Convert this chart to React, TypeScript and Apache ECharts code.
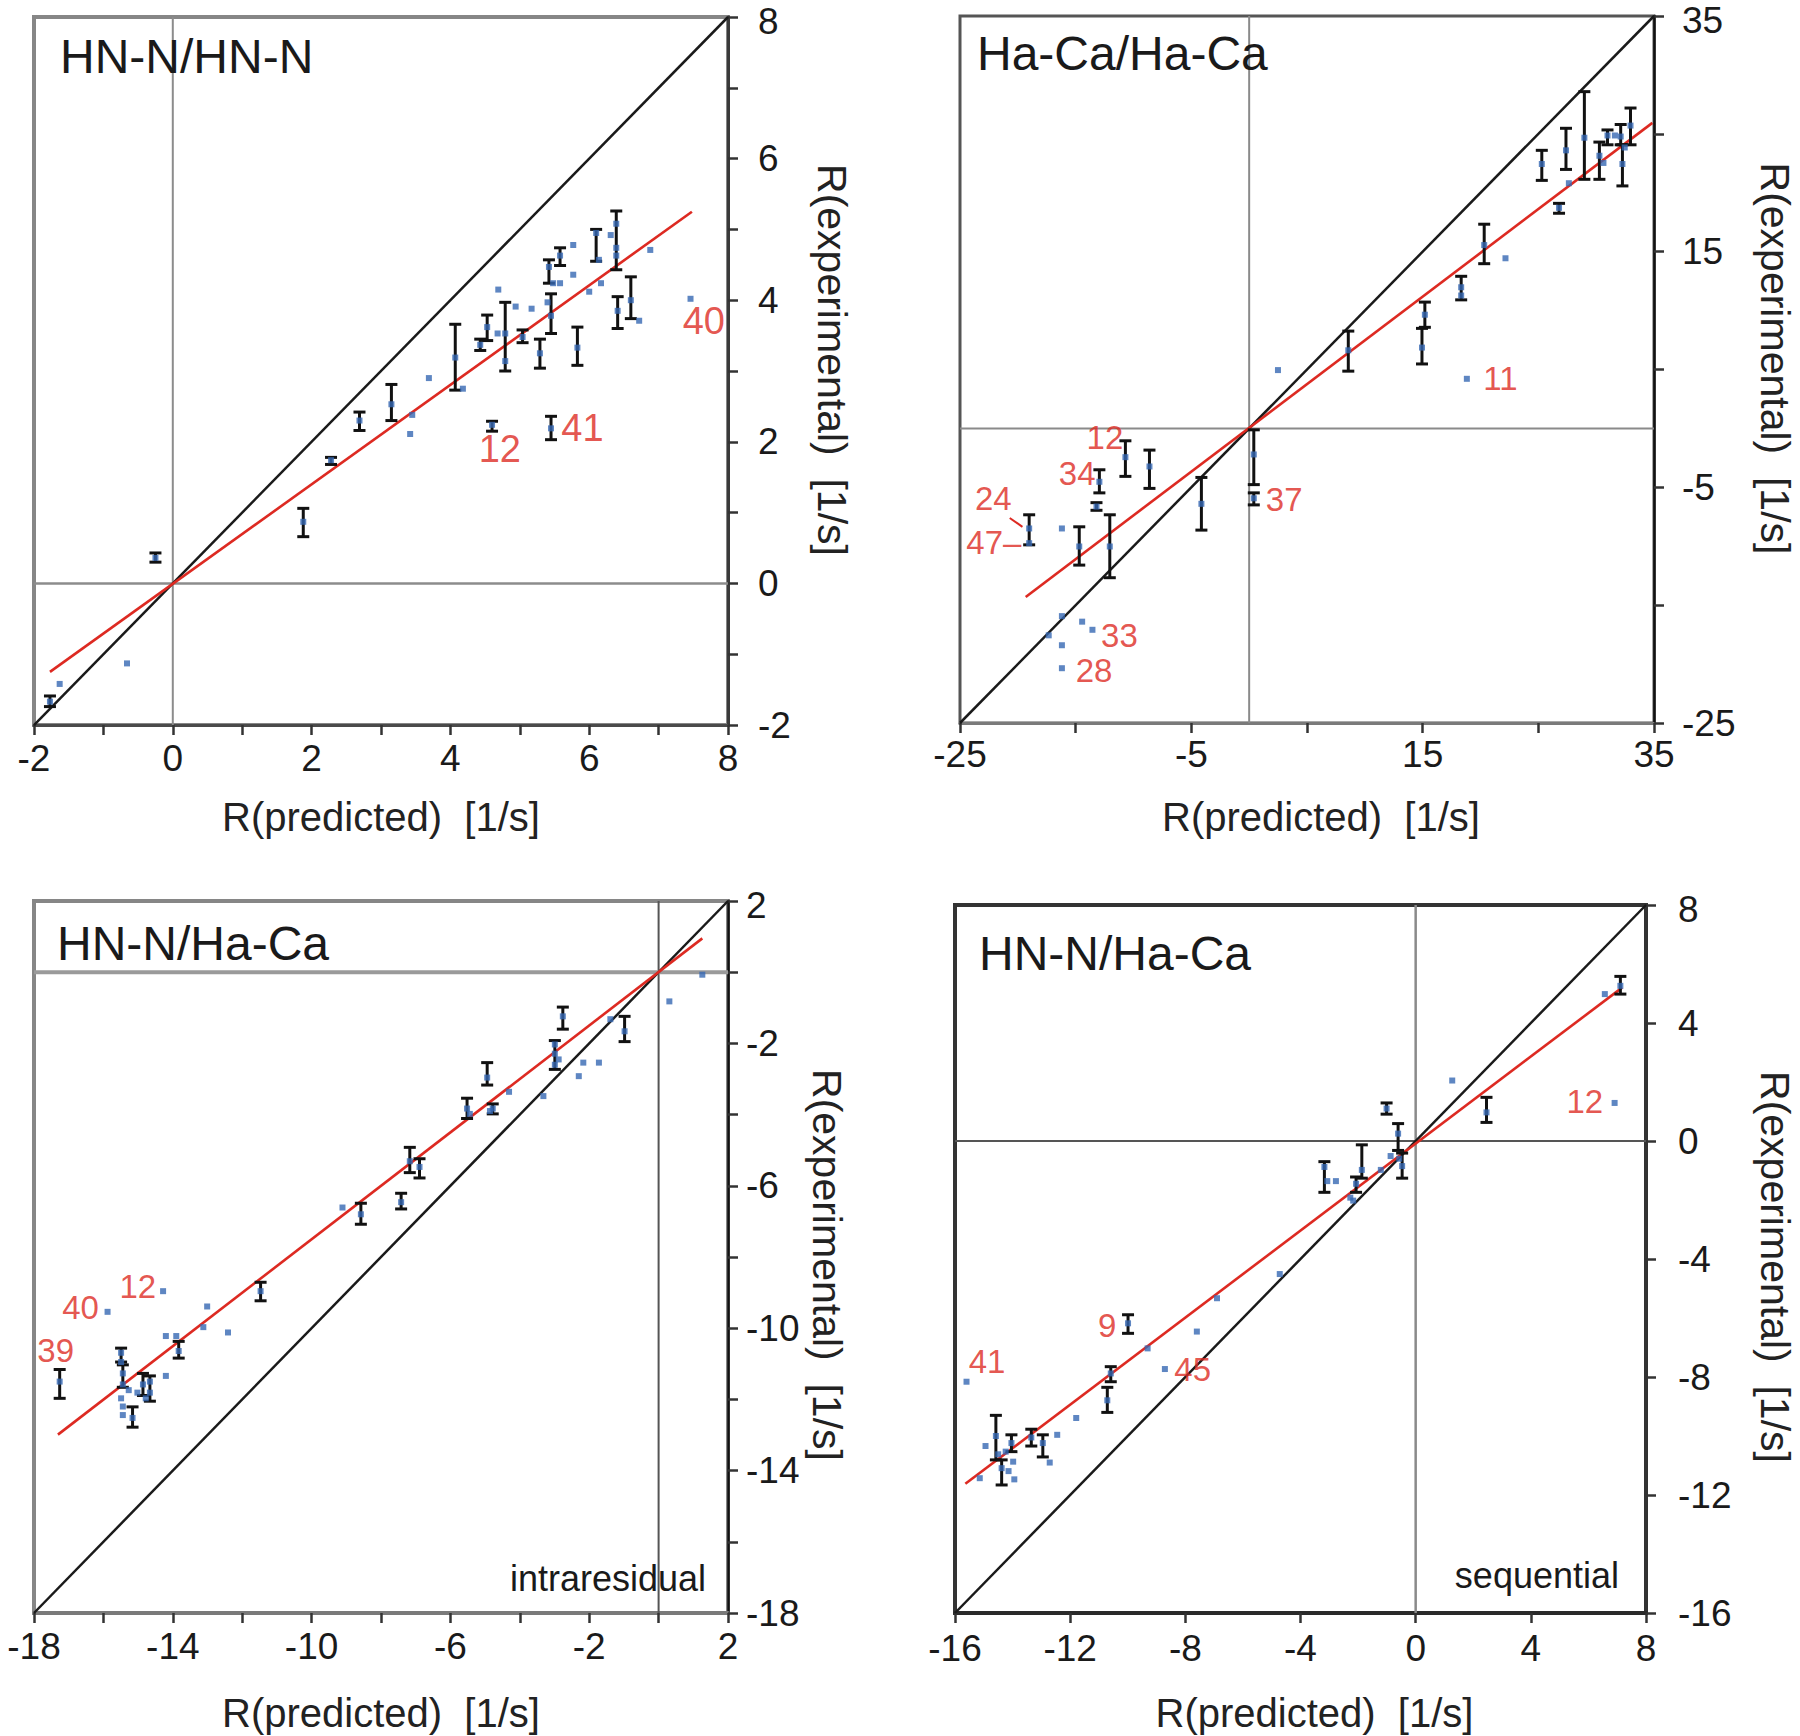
import React, { useEffect, useRef } from "react";
import * as echarts from "echarts";

// ---------- Panel 1: HN-N/HN-N ----------
const p1XLabels = [-2, 0, 2, 4, 6, 8];
const p1YLabels = [-2, 0, 2, 4, 6, 8];
const p1Tick = 1;
const p1Points: [number, number][] = [
  [-1.77, -1.67], [-1.63, -1.42], [-0.66, -1.13], [-0.25, 0.36], [1.88, 0.87], [2.28, 1.74],
  [2.69, 2.3], [3.15, 2.53], [3.42, 2.11], [3.45, 2.38], [3.69, 2.9], [4.07, 3.19], [4.18, 2.75],
  [4.43, 3.37], [4.53, 3.62], [4.6, 2.24], [4.69, 4.15], [4.68, 3.53], [4.79, 3.53], [4.79, 3.14],
  [4.94, 3.91], [5.04, 3.48], [5.17, 3.88], [5.29, 3.25], [5.4, 3.97], [5.42, 4.47], [5.45, 3.78],
  [5.45, 2.19], [5.48, 4.24], [5.58, 4.24], [5.58, 4.63], [5.77, 4.78], [5.77, 4.36], [5.83, 3.33],
  [6.0, 4.12], [6.1, 4.95], [6.14, 4.57], [6.17, 4.24], [6.31, 4.92], [6.39, 5.08], [6.39, 4.74],
  [6.39, 4.63], [6.41, 3.85], [6.6, 4.0], [6.72, 3.71], [6.88, 4.71], [7.46, 4.02],
];
const p1Errors: [number, number, number][] = [
  [-1.77, -1.74, -1.59], [-0.25, 0.3, 0.43], [1.88, 0.66, 1.06], [2.28, 1.68, 1.78], [2.69, 2.16, 2.42],
  [3.15, 2.3, 2.81], [4.07, 2.73, 3.66], [4.43, 3.29, 3.45], [4.53, 3.43, 3.79], [4.6, 2.15, 2.29],
  [4.79, 3.0, 3.97], [5.04, 3.4, 3.58], [5.29, 3.04, 3.45], [5.42, 4.24, 4.57], [5.45, 3.53, 4.09],
  [5.45, 2.03, 2.36], [5.58, 4.49, 4.74], [5.83, 3.08, 3.62], [6.1, 4.55, 5.0], [6.39, 4.43, 5.26],
  [6.41, 3.6, 4.05], [6.6, 3.74, 4.33],
];
const p1Fit: [number, number][] = [[-1.77, -1.25], [7.48, 5.25]];
const p1Labels: [number, number, string][] = [[7.34, 3.7, "40"], [5.59, 2.19, "41"], [4.4, 1.9, "12"]];

// ---------- Panel 2: Ha-Ca/Ha-Ca ----------
const p2XLabels = [-25, -5, 15, 35];
const p2YLabels = [-25, -5, 15, 35];
const p2Tick = 10;
const p2Points: [number, number][] = [
  [-17.33, -17.56], [-16.19, -15.93], [-16.19, -18.4], [-16.19, -20.35], [-14.44, -16.4], [-13.55, -17.09],
  [-16.19, -8.49], [-19.02, -8.49], [-19.02, -9.74], [-14.69, -10.02], [-13.2, -6.63], [-12.95, -4.53],
  [-12.05, -10.02], [-10.7, -2.44], [-8.62, -3.23], [-4.13, -6.4], [0.4, -2.21], [0.4, -5.93],
  [2.49, 4.95], [8.57, 6.63], [14.94, 6.86], [15.19, 9.65], [18.82, 4.21], [18.33, 11.28],
  [18.33, 11.98], [20.32, 15.56], [22.16, 14.44], [25.3, 22.44], [26.79, 18.72], [27.39, 23.6],
  [27.64, 20.81], [28.98, 24.67], [30.28, 23.14], [30.63, 22.53], [30.98, 24.86], [31.62, 24.86],
  [32.12, 24.77], [32.27, 22.44], [32.47, 23.84], [32.97, 25.7],
];
const p2Errors: [number, number, number][] = [
  [-19.02, -9.88, -7.33], [-14.69, -11.6, -8.35], [-13.2, -6.95, -6.3], [-12.95, -5.47, -3.51],
  [-12.05, -12.67, -7.33], [-10.7, -4.07, -1.05], [-8.62, -5.09, -1.84], [-4.13, -8.63, -4.16],
  [0.4, -4.77, -0.12], [0.4, -6.49, -5.47], [8.57, 4.86, 8.26], [14.94, 5.47, 8.49],
  [15.19, 8.58, 10.72], [18.33, 10.91, 12.91], [20.32, 13.98, 17.33], [25.3, 21.05, 23.6],
  [26.79, 18.26, 19.1], [27.39, 21.98, 25.47], [28.98, 21.14, 28.58], [30.28, 21.14, 24.3],
  [30.98, 24.07, 25.33], [32.12, 24.07, 25.79], [32.27, 20.58, 24.07], [32.97, 24.07, 27.19],
];
const p2Fit: [number, number][] = [[-19.32, -14.3], [34.86, 25.93]];
const p2Labels: [number, number, string][] = [
  [20.2, 4.21, "11"], [1.4, -6.0, "37"], [-14.1, -0.81, "12"], [-16.5, -3.84, "34"],
  [-23.75, -5.93, "24"], [-24.5, -9.65, "47–"], [-12.85, -17.56, "33"], [-15.04, -20.58, "28"],
];
const p2Pointer: [number, number][] = [[-20.7, -7.6], [-19.6, -8.35]];

// ---------- Panel 3: HN-N/Ha-Ca intraresidual ----------
const p3XLabels = [-18, -14, -10, -6, -2, 2];
const p3YLabels = [-18, -14, -10, -6, -2, 2];
const p3Tick = 2;
const p3Points: [number, number][] = [
  [-17.26, -11.5], [-15.88, -9.54], [-14.28, -8.96], [-15.49, -10.69], [-15.49, -10.95], [-15.44, -11.27],
  [-15.44, -11.58], [-15.49, -11.97], [-15.44, -12.2], [-15.44, -12.44], [-15.27, -11.74], [-15.16, -12.52],
  [-15.02, -11.81], [-14.86, -11.58], [-14.78, -11.97], [-14.66, -11.5], [-14.66, -11.81], [-14.2, -11.34],
  [-14.2, -10.22], [-13.9, -10.22], [-13.83, -10.64], [-13.12, -9.97], [-13.01, -9.39], [-12.41, -10.12],
  [-11.47, -8.96], [-9.11, -6.61], [-8.58, -6.8], [-7.42, -6.46], [-7.17, -5.31], [-6.89, -5.47],
  [-5.52, -3.83], [-5.44, -3.98], [-4.94, -2.96], [-4.86, -3.9], [-4.78, -3.83], [-4.31, -3.36],
  [-3.32, -3.48], [-2.99, -2.03], [-2.99, -2.29], [-2.99, -2.6], [-2.88, -2.45], [-2.76, -1.24],
  [-2.3, -2.92], [-2.17, -2.54], [-1.72, -2.54], [-1.39, -1.32], [-0.98, -1.66], [0.31, -0.82], [1.26, -0.07],
];
const p3Errors: [number, number, number][] = [
  [-17.26, -11.97, -11.16], [-15.49, -10.95, -10.56], [-15.44, -11.66, -11.03], [-15.16, -12.78, -12.21],
  [-14.86, -11.89, -11.27], [-14.66, -12.05, -11.34], [-13.83, -10.84, -10.37], [-11.47, -9.23, -8.71],
  [-8.58, -7.08, -6.49], [-7.42, -6.65, -6.21], [-7.17, -5.63, -4.92], [-6.89, -5.78, -5.24],
  [-5.52, -4.11, -3.54], [-4.94, -3.17, -2.54], [-4.78, -3.98, -3.7], [-2.99, -2.73, -1.92],
  [-2.76, -1.6, -0.98], [-0.98, -1.95, -1.24],
];
const p3Fit: [number, number][] = [[-17.31, -12.99], [1.26, 0.95]];
const p3Labels: [number, number, string][] = [[-17.92, -10.64, "39"], [-17.2, -9.43, "40"], [-15.55, -8.84, "12"]];

// ---------- Panel 4: HN-N/Ha-Ca sequential ----------
const p4XLabels = [-16, -12, -8, -4, 0, 4, 8];
const p4YLabels = [-16, -12, -8, -4, 0, 4, 8];
const p4Tick = 4;
const p4Points: [number, number][] = [
  [-15.6, -8.16], [-15.14, -11.43], [-14.94, -10.34], [-14.58, -10.0], [-14.5, -10.62], [-14.38, -11.09],
  [-14.24, -10.53], [-14.04, -10.24], [-14.14, -11.19], [-13.98, -10.87], [-13.94, -11.47], [-13.35, -10.05],
  [-12.95, -10.24], [-12.71, -10.9], [-12.45, -9.96], [-11.79, -9.39], [-10.71, -8.79], [-10.59, -7.88],
  [-9.99, -6.18], [-9.31, -7.03], [-8.71, -7.73], [-7.6, -6.46], [-6.9, -5.33], [-4.72, -4.51],
  [-3.17, -0.88], [-3.07, -1.36], [-2.77, -1.36], [-2.27, -1.92], [-2.17, -2.02], [-2.07, -1.45],
  [-1.87, -0.98], [-1.21, -0.98], [-1.01, 1.1], [-0.87, -0.51], [-0.61, 0.25], [-0.57, -0.6],
  [-0.47, -0.85], [1.27, 2.05], [2.46, 0.97], [6.57, 4.98], [6.91, 1.29], [7.11, 5.26],
];
const p4Errors: [number, number, number][] = [
  [-14.58, -10.81, -9.3], [-14.38, -11.66, -10.81], [-14.04, -10.53, -9.96], [-13.35, -10.34, -9.77],
  [-12.95, -10.71, -9.96], [-10.71, -9.2, -8.35], [-10.59, -8.16, -7.65], [-9.99, -6.52, -5.89],
  [-3.17, -1.74, -0.7], [-2.07, -1.74, -1.22], [-1.87, -1.26, -0.13], [-1.01, 0.91, 1.29],
  [-0.61, -0.32, 0.59], [-0.47, -1.26, -0.41], [2.46, 0.63, 1.48], [7.11, 4.98, 5.58],
];
const p4Fit: [number, number][] = [[-15.64, -11.62], [7.17, 5.2]];
const p4Labels: [number, number, string][] = [[-15.54, -7.46, "41"], [-11.05, -6.27, "9"], [-8.4, -7.73, "45"], [5.22, 1.35, "12"]];

const titles = ["HN-N/HN-N", "Ha-Ca/Ha-Ca", "HN-N/Ha-Ca", "HN-N/Ha-Ca"];
const xName = "R(predicted)  [1/s]";
const yName = "R(experimental)  [1/s]";

const FONT = "'Liberation Sans', Arial, sans-serif";
const RED = "#dd2a22";
const BLUE = "#3668b3";

type Panel = {
  grid: { left: number; top: number; width: number; height: number };
  xLabels: number[]; yLabels: number[]; tick: number;
  points: [number, number][]; errors: [number, number, number][];
  fit: [number, number][]; labels: [number, number, string][];
  labelSize: number;
  border: string; borderW: number;
  xLine: string; xLineW: number; yLine: string; yLineW: number;
  zeroH: string; zeroHW: number; zeroV: string; zeroVW: number;
  xLabelMargin: number; yLabelMargin: number; xNameGap: number; yNameGap: number;
  xNamePad: number[]; yNamePad: number[];
};

const panels: Panel[] = [
  {
    grid: { left: 34, top: 17, width: 694, height: 708 },
    xLabels: p1XLabels, yLabels: p1YLabels, tick: p1Tick,
    points: p1Points, errors: p1Errors, fit: p1Fit, labels: p1Labels, labelSize: 38,
    border: "#868686", borderW: 4, xLine: "#4a4a4a", xLineW: 3, yLine: "#3a3a3a", yLineW: 3,
    zeroH: "#8c8c8c", zeroHW: 2.5, zeroV: "#8c8c8c", zeroVW: 2,
    xLabelMargin: 18, yLabelMargin: 30, xNameGap: 72, yNameGap: 87,
    xNamePad: [0, 0, 0, 0], yNamePad: [0, 22, 0, 0],
  },
  {
    grid: { left: 960, top: 16, width: 694, height: 707 },
    xLabels: p2XLabels, yLabels: p2YLabels, tick: p2Tick,
    points: p2Points, errors: p2Errors, fit: p2Fit, labels: p2Labels, labelSize: 33,
    border: "#555555", borderW: 3, xLine: "#7a7a7a", xLineW: 3, yLine: "#111111", yLineW: 2.5,
    zeroH: "#8a8a8a", zeroHW: 2, zeroV: "#8a8a8a", zeroVW: 2,
    xLabelMargin: 16, yLabelMargin: 28, xNameGap: 74, yNameGap: 104,
    xNamePad: [0, 0, 0, 28], yNamePad: [0, 22, 0, 0],
  },
  {
    grid: { left: 34, top: 901, width: 694, height: 712 },
    xLabels: p3XLabels, yLabels: p3YLabels, tick: p3Tick,
    points: p3Points, errors: p3Errors, fit: p3Fit, labels: p3Labels, labelSize: 33,
    border: "#868686", borderW: 4, xLine: "#7a7a7a", xLineW: 4, yLine: "#111111", yLineW: 2.5,
    zeroH: "#9a9a9a", zeroHW: 4, zeroV: "#555555", zeroVW: 2,
    xLabelMargin: 18, yLabelMargin: 18, xNameGap: 80, yNameGap: 82,
    xNamePad: [0, 0, 0, 0], yNamePad: [0, 0, 0, 16],
  },
  {
    grid: { left: 955, top: 905, width: 691, height: 708 },
    xLabels: p4XLabels, yLabels: p4YLabels, tick: p4Tick,
    points: p4Points, errors: p4Errors, fit: p4Fit, labels: p4Labels, labelSize: 33,
    border: "#333333", borderW: 4, xLine: "#2a2a2a", xLineW: 4, yLine: "#333333", yLineW: 3.5,
    zeroH: "#555555", zeroHW: 2, zeroV: "#8a8a8a", zeroVW: 2.5,
    xLabelMargin: 20, yLabelMargin: 32, xNameGap: 80, yNameGap: 112,
    xNamePad: [0, 0, 0, 28], yNamePad: [0, 0, 0, 16],
  },
];

const titlePos: [number, number][] = [[60, 56], [977, 53], [57, 943], [979, 953]];
const cornerTexts: { text: string; right: number; y: number }[] = [
  { text: "intraresidual", right: 706, y: 1578 },
  { text: "sequential", right: 1619, y: 1575 },
];

function fmt(labels: number[], topRich: boolean) {
  const top = labels[labels.length - 1];
  return (v: number) => {
    if (!labels.some((l) => Math.abs(l - v) < 1e-9)) return "";
    if (topRich && Math.abs(v - top) < 1e-9) return `{top|${v}}`;
    return String(v);
  };
}

function buildOption() {
  const grid: any[] = [];
  const xAxis: any[] = [];
  const yAxis: any[] = [];
  const series: any[] = [];

  panels.forEach((p, i) => {
    const xmin = p.xLabels[0], xmax = p.xLabels[p.xLabels.length - 1];
    const ymin = p.yLabels[0], ymax = p.yLabels[p.yLabels.length - 1];
    grid.push({
      ...p.grid, show: true, borderColor: p.border, borderWidth: p.borderW, backgroundColor: "transparent",
      containLabel: false, outerBoundsMode: "none",
    });
    xAxis.push({
      gridIndex: i, type: "value", min: xmin, max: xmax, interval: p.tick, position: "bottom",
      axisLine: { show: true, onZero: false, lineStyle: { color: p.xLine, width: p.xLineW } },
      axisTick: { show: true, inside: false, length: 10, lineStyle: { color: "#333", width: 2.5 } },
      axisLabel: { formatter: fmt(p.xLabels, false), fontSize: 37, lineHeight: 30, color: "#1a1a1a", fontFamily: FONT, margin: p.xLabelMargin },
      splitLine: { show: false },
      name: xName, nameLocation: "middle", nameGap: p.xNameGap,
      nameTextStyle: { fontSize: 40, color: "#222", fontFamily: FONT, padding: p.xNamePad },
    });
    yAxis.push({
      gridIndex: i, type: "value", min: ymin, max: ymax, interval: p.tick, position: "right",
      axisLine: { show: true, onZero: false, lineStyle: { color: p.yLine, width: p.yLineW } },
      axisTick: { show: true, inside: false, length: 10, lineStyle: { color: "#333", width: 2.5 } },
      axisLabel: {
        formatter: fmt(p.yLabels, true), fontSize: 37, lineHeight: 28, color: "#1a1a1a", fontFamily: FONT, margin: p.yLabelMargin,
        rich: { top: { fontSize: 37, lineHeight: 28, color: "#1a1a1a", fontFamily: FONT, padding: [8, 0, 0, 0] } },
      },
      splitLine: { show: false },
      name: yName, nameLocation: "middle", nameGap: p.yNameGap, nameRotate: -90,
      nameTextStyle: { fontSize: 41, lineHeight: 34, color: "#222", fontFamily: FONT, padding: p.yNamePad },
    });
    const ax = { xAxisIndex: i, yAxisIndex: i };
    const lineBase = { type: "line", symbol: "none", showSymbol: false, silent: true, animation: false, z: 2 };
    series.push({ ...lineBase, ...ax, data: [[0, ymin], [0, ymax]], lineStyle: { color: p.zeroV, width: p.zeroVW } });
    series.push({ ...lineBase, ...ax, data: [[xmin, 0], [xmax, 0]], lineStyle: { color: p.zeroH, width: p.zeroHW } });
    series.push({ ...lineBase, ...ax, data: [[xmin, ymin], [xmax, ymax]], lineStyle: { color: "#1a1a1a", width: 2.5 } });
    series.push({ ...lineBase, ...ax, data: p.fit, lineStyle: { color: RED, width: 2.6 } });
    series.push({
      type: "custom", ...ax, silent: true, z: 3,
      encode: { x: 0, y: [1, 2] },
      data: p.errors,
      renderItem: (_params: any, api: any) => {
        const x = api.value(0), lo = api.value(1), hi = api.value(2);
        const a = api.coord([x, hi]);
        const b = api.coord([x, lo]);
        const w = 6;
        const st = { stroke: "#111", lineWidth: 3 };
        return {
          type: "group",
          children: [
            { type: "line", shape: { x1: a[0], y1: a[1], x2: b[0], y2: b[1] }, style: st },
            { type: "line", shape: { x1: a[0] - w, y1: a[1], x2: a[0] + w, y2: a[1] }, style: st },
            { type: "line", shape: { x1: b[0] - w, y1: b[1], x2: b[0] + w, y2: b[1] }, style: st },
          ],
        };
      },
    });
    series.push({
      type: "scatter", ...ax, silent: true, z: 4, symbol: "rect", symbolSize: 6,
      itemStyle: { color: BLUE }, data: p.points,
    });
    series.push({
      type: "scatter", ...ax, silent: true, z: 5, symbolSize: 1, itemStyle: { color: "rgba(0,0,0,0)" },
      data: p.labels.map(([x, y, t]) => ({ value: [x, y], label: { formatter: t } })),
      label: { show: true, position: "right", distance: 0, color: RED, fontSize: p.labelSize, fontFamily: FONT },
    });
  });

  // pointer line for label "24" in panel 2
  series.push({
    type: "line", xAxisIndex: 1, yAxisIndex: 1, symbol: "none", silent: true, z: 5,
    data: p2Pointer, lineStyle: { color: RED, width: 2 },
  });

  const graphic: any[] = [];
  titles.forEach((t, i) => {
    graphic.push({
      type: "text", x: titlePos[i][0], y: titlePos[i][1], z: 10,
      style: { text: t, fontSize: 48, fontFamily: FONT, fill: "#1a1a1a", align: "left", verticalAlign: "middle" },
    });
  });
  cornerTexts.forEach((c) => {
    graphic.push({
      type: "text", x: c.right, y: c.y, z: 10,
      style: { text: c.text, fontSize: 36, fontFamily: FONT, fill: "#1a1a1a", align: "right", verticalAlign: "middle" },
    });
  });

  return { animation: false, backgroundColor: "#ffffff", grid, xAxis, yAxis, series, graphic };
}

export default function App() {
  const ref = useRef<HTMLDivElement>(null);
  useEffect(() => {
    document.body.style.margin = "0";
    if (!ref.current) return;
    const chart = echarts.init(ref.current, undefined, { renderer: "svg" });
    chart.setOption(buildOption() as any);
    return () => chart.dispose();
  }, []);
  return <div ref={ref} style={{ width: 1800, height: 1736, position: "absolute", left: 0, top: 0 }} />;
}
